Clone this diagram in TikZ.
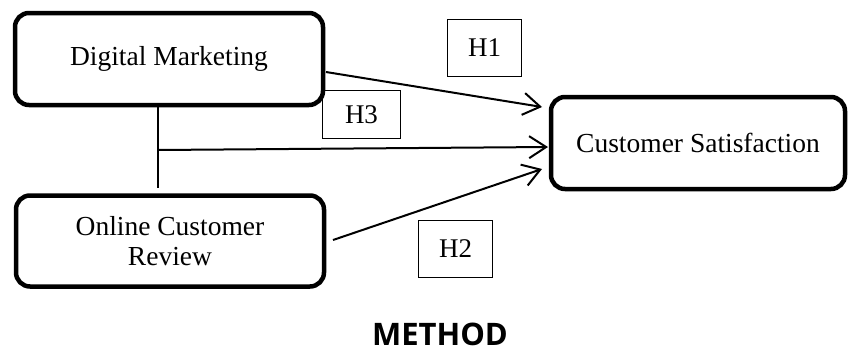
\documentclass[tikz,border=0pt]{standalone}
\usepackage{fontspec}
\setmainfont{Liberation Serif}
\newfontfamily\methodfont{Open Sans}
\usetikzlibrary{arrows.meta}
\begin{document}
\begin{tikzpicture}[x=1pt,y=-1pt,
  varbox/.style={draw, line width=4.5pt, rounded corners=14pt, align=center, inner sep=0pt,
    font=\fontsize{27.5}{30}\selectfont},
  hbox/.style={draw, line width=1.5pt, inner sep=0pt, minimum width=74pt, minimum height=57pt,
    font=\fontsize{27}{30}\selectfont},
  link/.style={line width=2pt},
  arr/.style={link, -{Straight Barb[length=17pt,width=22pt,line width=2pt]}}]
\useasboundingbox (0,0) rectangle (848,354);
% variables
\node[varbox, minimum width=308pt, minimum height=92pt] (dm) at (169,59) {Digital Marketing};
\node[varbox, minimum width=308pt, minimum height=91pt] (ocr) at (170,241) {Online Customer\\Review};
\node[varbox, minimum width=294pt, minimum height=92pt] (cs) at (698,143) {Customer Satisfaction};
% hypotheses
\node[hbox] (h1) at (484.5,48) {H1};
\node[hbox, minimum width=78pt, minimum height=48pt] (h3) at (361.5,114.5) {H3};
\node[hbox] (h2) at (455.5,249) {H2};
% connector points
\coordinate (dmout) at (326,72);
\coordinate (cs1) at (542,107);
\coordinate (vtop) at (158,107);
\coordinate (vbot) at (158,188);
\coordinate (jn) at (158,150);
\coordinate (cs2) at (548,147);
\coordinate (ocrout) at (333,240);
\coordinate (cs3) at (542,169);
\draw[arr] (dmout) -- (cs1);
\draw[link] (vtop) -- (vbot);
\draw[arr] (jn) -- (cs2);
\draw[arr] (ocrout) -- (cs3);
% title
\node[font=\methodfont\bfseries\fontsize{31}{36}\selectfont, anchor=base, inner sep=0pt] (title) at (440,345) {METHOD};
\end{tikzpicture}
\end{document}
